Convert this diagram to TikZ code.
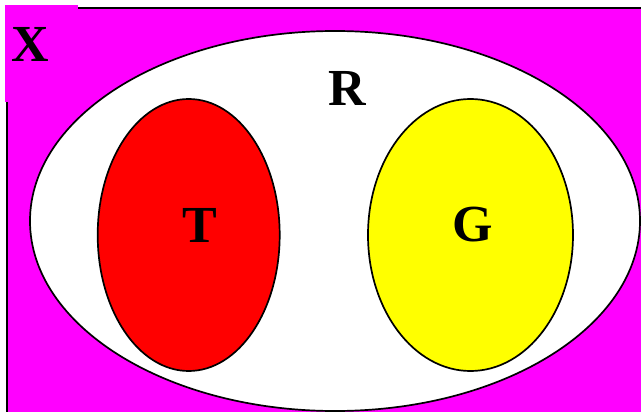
\documentclass[tikz,border=0pt]{standalone}
\usepackage{fontspec}
\setmainfont{Liberation Serif}
\usetikzlibrary{%
  shapes.geometric,% wg. ellipse
  positioning%
}
\definecolor{univmagenta}{RGB}{255,0,255}
\definecolor{setred}{RGB}{255,0,0}
\definecolor{setyellow}{RGB}{255,255,0}

\begin{document}
\begin{tikzpicture}[
  x=1pt,y=-1pt,
  line width=1.7pt,
  setbox/.style={ellipse,draw=black,inner sep=0pt},
  setlabel/.style={font=\fontsize{52}{52}\selectfont\bfseries,inner sep=0pt},
]

\useasboundingbox (0,0) rectangle (641,412);
\clip (0,0) rectangle (641,412);
\fill[white] (0,0) rectangle (641,412);

% universe
\draw[fill=univmagenta] (7,8) rectangle (700,460);
\fill[univmagenta] (5,5) rectangle (78,102);
\node[setlabel] (tx) at (30,44) {X};

% sets
\node[setbox,fill=white,minimum width=610pt,minimum height=380pt] (setR) at (335,221) {};
\node[setbox,fill=setred,minimum width=182pt,minimum height=272pt] (setT) at (188.7,235) {};
\node[setbox,fill=setyellow,minimum width=205pt,minimum height=272pt] (setG) at (470.5,235) {};

\node[setlabel] (tr) at (347,88) {R};
\node[setlabel] (tt) at (200,225) {T};
\node[setlabel] (tg) at (473,225) {G};
\end{tikzpicture}
\end{document}
